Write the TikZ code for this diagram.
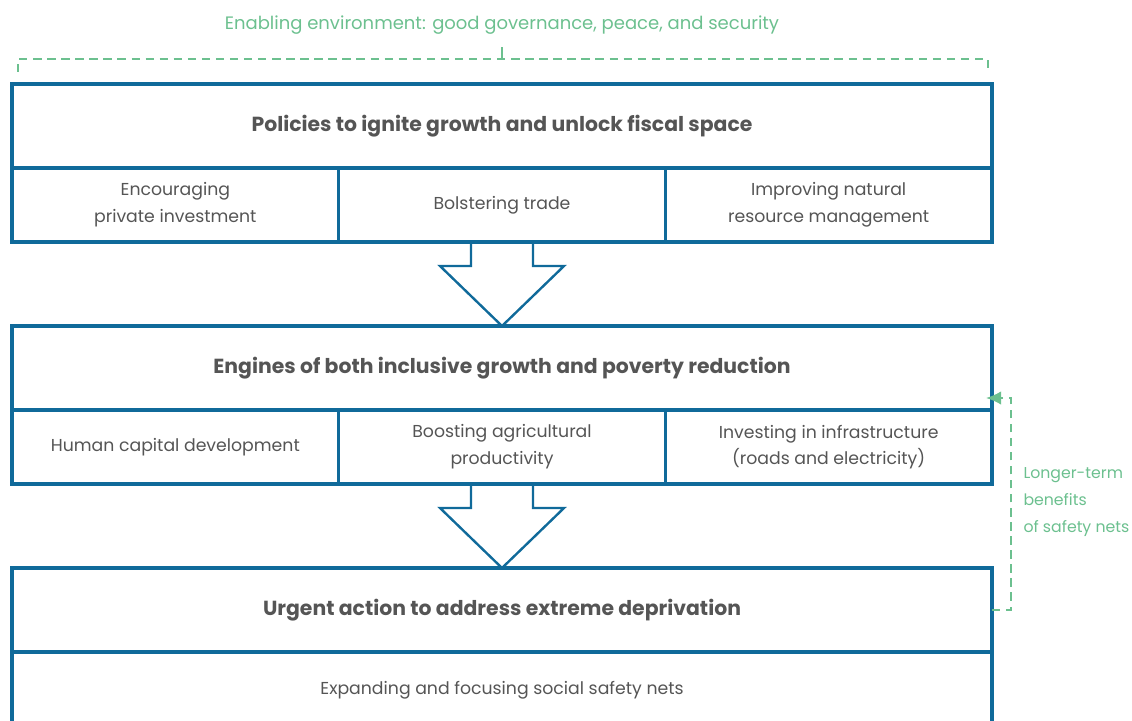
\documentclass[tikz,border=0pt]{standalone}
\usepackage{fontspec}
\setmainfont{Poppins}
\usepackage{xcolor}
\usetikzlibrary{arrows.meta,positioning,calc}
\definecolor{boxblue}{RGB}{16,106,154}
\definecolor{envgreen}{RGB}{108,192,143}
\definecolor{txtgray}{RGB}{85,85,85}

\begin{document}
\begin{tikzpicture}[font=\fontsize{12.3}{19}\selectfont,text=txtgray,>=Latex]
\tikzstyle{headbox}=[draw=boxblue,line width=2.2pt,minimum width=24.5cm,minimum height=2.1cm,inner sep=0pt,outer sep=0pt,font=\fontsize{14.5}{17}\selectfont\bfseries]
\tikzstyle{cellbox}=[draw=boxblue,line width=2.2pt,minimum width=8.1667cm,minimum height=1.85cm,inner sep=0pt,outer sep=0pt,align=center]
\tikzstyle{blockarrow}=[draw=boxblue,line width=1.7pt,line join=miter]
\tikzstyle{envline}=[draw=envgreen,line width=1.2pt,dash pattern=on 6pt off 4pt]
\tikzstyle{envtext}=[text=envgreen,inner sep=0pt]
\useasboundingbox (0,0) rectangle (28.3,18);

% top tier
\node[headbox] (policies) at (12.55,14.85) {Policies to ignite growth and unlock fiscal space};
\node[cellbox,below right=0pt and 0pt of policies.south west] (invest) {Encouraging\\private investment};
\node[cellbox,right=0pt of invest] (trade) {Bolstering trade};
\node[cellbox,right=0pt of trade] (resource) {Improving natural\\resource management};

% middle tier
\node[headbox,below=2.1cm of trade] (engines) {Engines of both inclusive growth and poverty reduction};
\node[cellbox,below right=0pt and 0pt of engines.south west] (humancap) {Human capital development};
\node[cellbox,right=0pt of humancap] (agri) {Boosting agricultural\\productivity};
\node[cellbox,right=0pt of agri] (infra) {Investing in infrastructure\\(roads and electricity)};

% bottom tier
\node[headbox,below=2.1cm of agri] (urgent) {Urgent action to address extreme deprivation};
\node[cellbox,minimum width=24.5cm,minimum height=1.9cm,below=0pt of urgent] (safetynet) {Expanding and focusing social safety nets};

% block arrows between tiers
\draw[blockarrow] ([xshift=-0.775cm]trade.south) -- ++(0,-0.6) -- ++(-0.775,0) -- (engines.north)
  -- ++(1.55,1.5) -- ++(-0.775,0) -- ([xshift=0.775cm]trade.south);
\draw[blockarrow] ([xshift=-0.775cm]agri.south) -- ++(0,-0.6) -- ++(-0.775,0) -- (urgent.north)
  -- ++(1.55,1.5) -- ++(-0.775,0) -- ([xshift=0.775cm]agri.south);

% enabling environment bracket
\node[envtext,font=\fontsize{12.8}{15}\selectfont] (enabling) at ($(policies.north)+(0,1.475)$) {Enabling environment: good governance, peace, and security};
\draw[envline] ([shift={(0.15,0.3)}]policies.north west) -- ++(0,0.325) -| ([shift={(-0.1,0.4)}]policies.north east);
\draw[draw=envgreen,line width=1.2pt] ($(policies.north)+(0,0.625)$) -- ++(0,0.3);

% feedback from safety nets
\draw[envline,-{Latex[length=0.38cm,width=0.34cm]},shorten >=-0.15cm] (urgent.east) -- ++(0.475,0) |- ([yshift=0.3cm]engines.south east);
\node[envtext,font=\fontsize{11.2}{19}\selectfont,align=left,anchor=west] (longterm) at (25.58,5.45) {Longer-term\\benefits\\of safety nets};
\end{tikzpicture}
\end{document}
